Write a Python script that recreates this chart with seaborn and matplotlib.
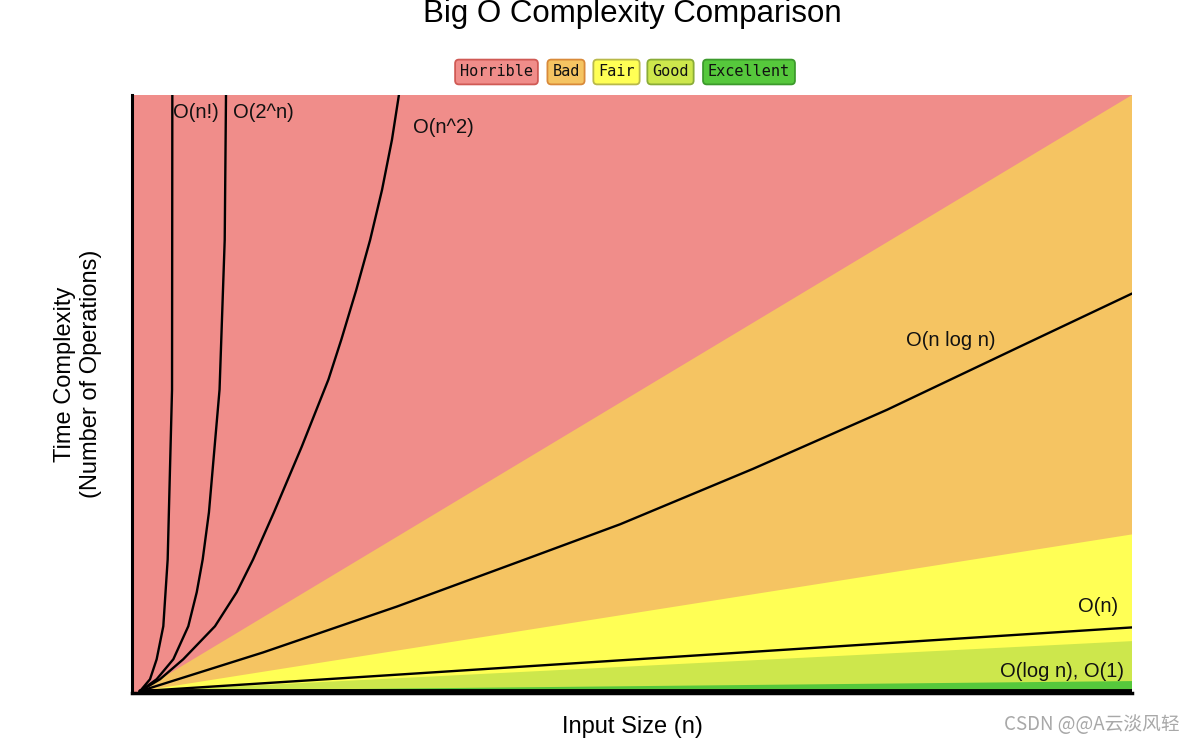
import matplotlib
matplotlib.use("Agg")
import matplotlib.pyplot as plt
import numpy as np
import pandas as pd
import seaborn as sns

# ---------------- data ----------------
N_MAX = 100          # input size at right edge
V_MAX = 100          # operations at top edge

# zone boundaries: value reached at N_MAX (zones are wedges from the origin)
zone_names = ["Horrible", "Bad", "Fair", "Good", "Excellent"]
zone_edge_at_nmax = [None, 100.0, 26.3, 8.4, 1.7]

# curves
fact_n = [0, 1.01, 1.68, 2.35, 2.79, 2.97, 3.23, 3.26]
fact_v = [0, 2.01, 5.36, 10.9, 22.1, 33.8, 50.6, 100]

exp_n = [0, 1.68, 3.36, 4.87, 5.72, 6.32, 6.95, 8.02, 8.54, 8.67]
exp_v = [0, 2.01, 5.36, 10.9, 16.6, 22.1, 30.0, 50.6, 75.7, 100]

sq_n = [0, 2.02, 4.36, 7.56, 9.75, 11.4, 13.5, 16.3, 19.0, 20.3, 21.8, 23.2, 24.4, 25.4, 26.1]
sq_v = [0, 2.01, 5.36, 10.9, 16.6, 22.1, 30.0, 41.0, 52.3, 59.0, 67.3, 75.7, 84.1, 92.5, 100]

nlogn_n = [0, 12.4, 25.9, 39.3, 48.4, 61.8, 75.3, 88.7, 100]
nlogn_v = [0, 6.5, 14.2, 22.4, 28.0, 37.3, 47.2, 57.8, 66.7]

lin_n = [0, 100]
lin_v = [0, 10.7]

const_n = [0, 100]
const_v = [0, 0]

curve_labels = ["O(n!)", "O(2^n)", "O(n^2)", "O(n log n)", "O(n)", "O(log n), O(1)"]

# ---------------- styling ----------------
zone_fill = ["#f08d8a", "#f5c462", "#ffff55", "#cde74c", "#56c83c"]
legend_fill = ["#f08d8a", "#f5c462", "#ffff55", "#cde74c", "#56c83c"]
legend_edge = ["#d05a55", "#d98a3a", "#b9b94a", "#8aac38", "#3c9a2c"]

sns.set_theme(style="white")
plt.rcParams["font.family"] = ["Liberation Sans", "DejaVu Sans"]

fig = plt.figure(figsize=(11.96, 7.44), dpi=100)
ax = fig.add_axes([132 / 1196, 51 / 744, 1000 / 1196, 598 / 744])
ax.set_facecolor(zone_fill[0])

# zone wedges
for name, edge, col in zip(zone_names[1:], zone_edge_at_nmax[1:], zone_fill[1:]):
    ax.fill([0, N_MAX, N_MAX], [0, edge, 0], color=col, lw=0, zorder=1)

# curves
frames = []
for lab, xs, ys in [
    ("O(n!)", fact_n, fact_v),
    ("O(2^n)", exp_n, exp_v),
    ("O(n^2)", sq_n, sq_v),
    ("O(n log n)", nlogn_n, nlogn_v),
    ("O(n)", lin_n, lin_v),
]:
    frames.append(pd.DataFrame({"n": xs, "ops": ys, "curve": lab}))
df = pd.concat(frames, ignore_index=True)
sns.lineplot(data=df, x="n", y="ops", hue="curve", units="curve",
             palette=["black"] * 5, sort=False, estimator=None,
             legend=False, lw=1.7, ax=ax, zorder=3)
for l in ax.lines:
    l.set_solid_joinstyle("round")
    l.set_solid_capstyle("round")

# O(1) / O(log n) thick line along the bottom
sns.lineplot(x=const_n, y=const_v, color="black", lw=3.5, ax=ax, zorder=4)

ax.set_xlim(-0.806, N_MAX)
ax.set_ylim(-0.3, V_MAX)
ax.set_xticks([])
ax.set_yticks([])
for s in ["top", "right"]:
    ax.spines[s].set_visible(False)
ax.spines["left"].set_color("black")
ax.spines["left"].set_linewidth(2.2)
ax.spines["bottom"].set_color("black")
ax.spines["bottom"].set_linewidth(2.5)

# curve labels
lab_fs = 14.5
lab_pos = {
    "O(n!)": (3.33, 97.0, "left"),
    "O(2^n)": (9.38, 97.0, "left"),
    "O(n^2)": (27.5, 94.5, "left"),
    "O(n log n)": (77.2, 58.8, "left"),
    "O(n)": (98.6, 14.2, "right"),
    "O(log n), O(1)": (99.2, 3.35, "right"),
}
for lab in curve_labels:
    x, y, ha = lab_pos[lab]
    ax.text(x, y, lab, ha=ha, va="center", fontsize=lab_fs, color="#111111", zorder=5)

# axis labels
ax.set_xlabel("Input Size (n)", fontsize=17, color="black", va="center")
ax.xaxis.set_label_coords(0.5, -0.057)
ax.set_ylabel("Time Complexity\n(Number of Operations)", fontsize=17, color="black",
              va="center", ha="center", linespacing=1.2)
ax.yaxis.set_label_coords(-0.054, 0.533)

# title
fig.text(632 / 1196, 1 - 14 / 744, "Big O Complexity Comparison", ha="center", va="center",
         fontsize=22.5, color="black")

# legend badges
badge_cx = [496.5, 566, 616.5, 670.5, 749]
for name, cx, fc, ec in zip(zone_names, badge_cx, legend_fill, legend_edge):
    fig.text(cx / 1196, 1 - 72 / 744, name, ha="center", va="center",
             fontsize=11, family="DejaVu Sans Mono", color="#111111",
             bbox=dict(boxstyle="round,pad=0.32,rounding_size=0.25", fc=fc, ec=ec, lw=1.3))

# watermark
fig.text(1180 / 1196, 1 - 724 / 744, "CSDN @@A云淡风轻", ha="right", va="center",
         fontsize=13.5, color="#a8a8a8", family=["Noto Sans CJK SC", "DejaVu Sans"])

fig.savefig("out.png", dpi=100)
